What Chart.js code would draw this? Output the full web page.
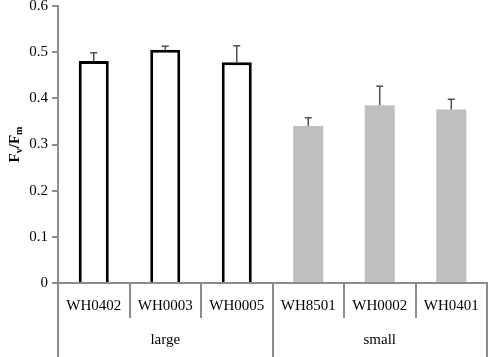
<!DOCTYPE html>
<html>
<head>
<meta charset="utf-8">
<script src="https://cdn.jsdelivr.net/npm/chart.js@4.4.0/dist/chart.umd.min.js"></script>
<style>
  html, body { margin: 0; padding: 0; background: #fff; }
  #wrap { width: 490px; height: 357px; }
</style>
</head>
<body>
<div id="wrap"><canvas id="chart" width="490" height="357"></canvas></div>
<script>
// strains and their size class
const strains = ['WH0402', 'WH0003', 'WH0005', 'WH8501', 'WH0002', 'WH0401'];
const groups = ['large', 'small'];
const groupSizes = [3, 3];

// Fv/Fm means and upper error (sd)
const fvfm = [0.481, 0.505, 0.478, 0.340, 0.385, 0.376];
const errs = [0.018, 0.008, 0.036, 0.018, 0.041, 0.022];

const yTicks = [0, 0.1, 0.2, 0.3, 0.4, 0.5, 0.6];

const AXIS = '#8c8c8c';
const SERIF = '"Liberation Serif", "Times New Roman", serif';

// per-bar look: large = open black outline, small = solid grey
const fills = strains.map((s, i) => i < groupSizes[0] ? '#ffffff' : '#c0bebe');
const borders = strains.map((s, i) => i < groupSizes[0] ? '#000000' : '#c0bebe');
const borderW = strains.map((s, i) => i < groupSizes[0] ? 3 : 0);

// error bars (upper only, with small cap)
const errorBars = {
    id: 'errorBars',
    afterDatasetsDraw(chart) {
        const ctx = chart.ctx;
        const y = chart.scales.y;
        const meta = chart.getDatasetMeta(0);
        ctx.save();
        ctx.strokeStyle = '#505050';
        ctx.lineWidth = 1.5;
        meta.data.forEach((bar, i) => {
            const yTop = y.getPixelForValue(fvfm[i] + errs[i]);
            const yBar = y.getPixelForValue(fvfm[i]);
            ctx.beginPath();
            ctx.moveTo(bar.x, yBar);
            ctx.lineTo(bar.x, yTop);
            ctx.moveTo(bar.x - 3.5, yTop);
            ctx.lineTo(bar.x + 3.5, yTop);
            ctx.stroke();
        });
        ctx.restore();
    }
};

// two level category axis: strain names, then size class
const groupAxis = {
    id: 'groupAxis',
    afterDraw(chart) {
        const ctx = chart.ctx;
        const x = chart.scales.x;
        const area = chart.chartArea;
        const n = strains.length;
        const step = (area.right - area.left) / n;
        const base = area.bottom;
        ctx.save();
        ctx.strokeStyle = AXIS;
        ctx.lineWidth = 2;
        // short dividers between strains
        for (let i = 1; i < n; i++) {
            const px = Math.round(area.left + i * step);
            ctx.beginPath();
            ctx.moveTo(px, base);
            ctx.lineTo(px, base + 35);
            ctx.stroke();
        }
        // long dividers between groups
        let edge = 0;
        const edges = [0];
        groupSizes.forEach(g => { edge += g; edges.push(edge); });
        edges.forEach(e => {
            const px = Math.round(area.left + e * step);
            ctx.beginPath();
            ctx.moveTo(px, base);
            ctx.lineTo(px, chart.height);
            ctx.stroke();
        });
        // labels
        ctx.fillStyle = '#000';
        ctx.textAlign = 'center';
        ctx.textBaseline = 'middle';
        ctx.font = '15px ' + SERIF;
        strains.forEach((s, i) => {
            ctx.fillText(s, x.getPixelForValue(i), base + 23);
        });
        groups.forEach((g, k) => {
            const mid = area.left + (edges[k] + edges[k + 1]) / 2 * step;
            ctx.fillText(g, mid, base + 57);
        });
        ctx.restore();
    }
};

// rotated y title with subscripts: Fv/Fm
const yTitle = {
    id: 'yTitle',
    afterDraw(chart) {
        const ctx = chart.ctx;
        const area = chart.chartArea;
        const big = 'bold 15px ' + SERIF;
        const small = 'bold 10px ' + SERIF;
        const parts = [['F', big, 0], ['v', small, 3], ['/F', big, 0], ['m', small, 3]];
        ctx.save();
        ctx.translate(19, (area.top + area.bottom) / 2);
        ctx.rotate(-Math.PI / 2);
        ctx.fillStyle = '#000';
        ctx.textBaseline = 'alphabetic';
        let total = 0;
        parts.forEach(p => { ctx.font = p[1]; total += ctx.measureText(p[0]).width; });
        let cx = -total / 2;
        parts.forEach(p => {
            ctx.font = p[1];
            ctx.fillText(p[0], cx, p[2]);
            cx += ctx.measureText(p[0]).width;
        });
        ctx.restore();
    }
};

new Chart(document.getElementById('chart'), {
    type: 'bar',
    data: {
        labels: strains,
        datasets: [{
            data: fvfm,
            backgroundColor: fills,
            borderColor: borders,
            borderWidth: borderW,
            borderSkipped: 'start',
            categoryPercentage: 1,
            barPercentage: 0.42
        }]
    },
    options: {
        responsive: false,
        animation: false,
        devicePixelRatio: 1,
        layout: { padding: { top: 6, right: 3, left: 0, bottom: 0 } },
        plugins: {
            legend: { display: false },
            tooltip: { enabled: false }
        },
        scales: {
            x: {
                grid: { display: false },
                border: { display: true, color: AXIS, width: 2 },
                ticks: { display: false },
                afterFit(scale) { scale.height = 74; }
            },
            y: {
                min: 0,
                max: 0.6,
                afterBuildTicks(scale) { scale.ticks = yTicks.map(v => ({ value: v })); },
                grid: { drawOnChartArea: false, drawTicks: true, tickLength: 6, color: AXIS, lineWidth: 2 },
                border: { display: true, color: AXIS, width: 2 },
                ticks: {
                    color: '#000',
                    padding: 4,
                    font: { family: SERIF, size: 15 },
                    callback: v => String(v)
                },
                afterFit(scale) {
                    scale.width = 58;
                    scale.paddingTop = 0;
                    scale.paddingBottom = 0;
                }
            }
        }
    },
    plugins: [errorBars, groupAxis, yTitle]
});
</script>
</body>
</html>
